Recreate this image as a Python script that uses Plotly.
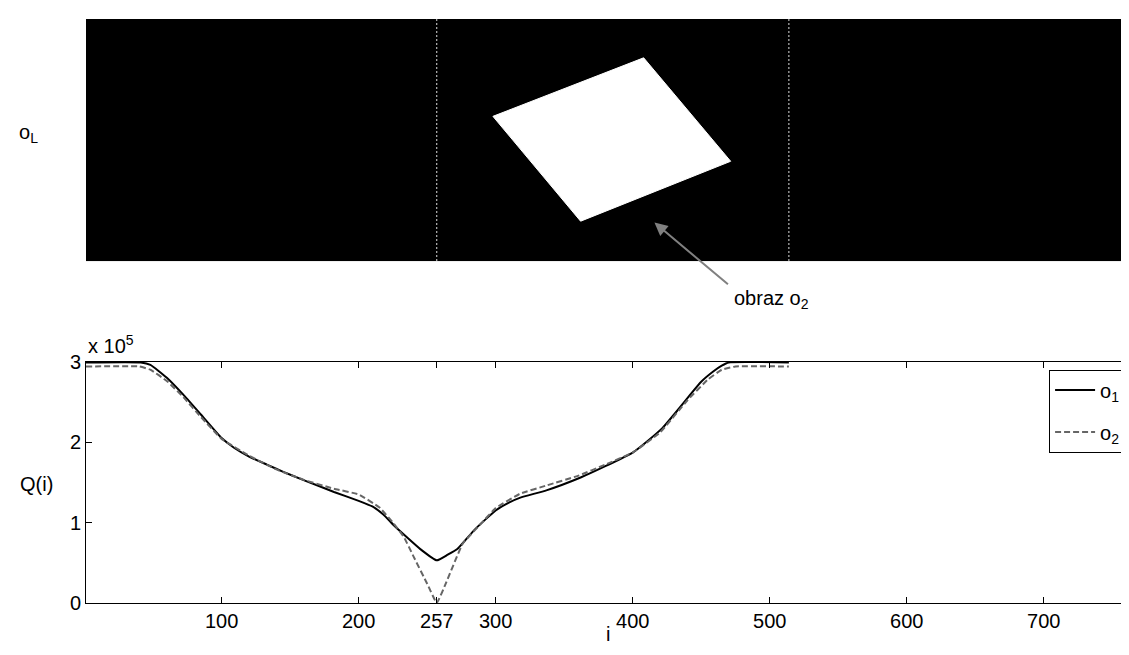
import plotly.graph_objects as go

# ---------------- data ----------------
# Q(i) curves, values in units of 10^5
i_o1 = [1, 41, 48, 60, 72, 85, 100, 109, 120, 133, 145, 158, 170, 182, 200, 210, 218, 226, 235, 245,
        257, 265, 272, 284, 292, 300, 310, 318, 337, 362, 380, 400, 412, 422, 432, 442, 450, 459, 465, 470, 514]
q_o1 = [2.99, 2.99, 2.96, 2.80, 2.59, 2.34, 2.05, 1.93, 1.82, 1.72, 1.63, 1.54, 1.46, 1.38, 1.27, 1.20, 1.10, 0.96, 0.82, 0.67,
        0.53, 0.60, 0.67, 0.90, 1.03, 1.15, 1.25, 1.31, 1.40, 1.56, 1.70, 1.87, 2.03, 2.18, 2.38, 2.59, 2.75, 2.88, 2.95, 2.99, 2.99]

i_o2 = [1, 40, 48, 60, 72, 85, 100, 120, 140, 160, 182, 200, 215, 225, 233, 240, 250, 257, 264, 276, 289,
        300, 318, 337, 360, 380, 400, 420, 440, 455, 465, 475, 514]
q_o2 = [2.94, 2.94, 2.90, 2.76, 2.56, 2.31, 2.04, 1.83, 1.66, 1.53, 1.42, 1.35, 1.19, 1.00, 0.82, 0.58, 0.24, 0.00, 0.26, 0.74, 0.98,
        1.18, 1.36, 1.46, 1.58, 1.72, 1.87, 2.12, 2.52, 2.78, 2.90, 2.94, 2.94]

x_ticks = [100, 200, 257, 300, 400, 500, 600, 700]
y_ticks = [0, 1, 2, 3]
y_ticktext = ["0", "1", "2", "3"]

# top image o_L (pixel coordinates: column i, row r)
img_cols = [0.5, 768.5]
img_rows = [0.5, 178.5]
square_i = [408, 471.5, 362, 298, 408]
square_r = [29, 105, 149, 72, 29]
separators = [257, 514]

X_RANGE = [1, 761.5]
FONT = "Liberation Sans, Arial, sans-serif"
PAGE_OFF = 8  # default body margin of the html page
FIG_H = 639

fig = go.Figure()

# ---- top panel: image ----
fig.add_trace(go.Scatter(
    x=[img_cols[0], img_cols[1], img_cols[1], img_cols[0], img_cols[0]],
    y=[img_rows[0], img_rows[0], img_rows[1], img_rows[1], img_rows[0]],
    fill="toself", fillcolor="black", line=dict(color="black", width=0),
    mode="lines", xaxis="x2", yaxis="y2", showlegend=False, hoverinfo="skip"))
fig.add_trace(go.Scatter(
    x=square_i, y=square_r, fill="toself", fillcolor="white",
    line=dict(color="white", width=1), mode="lines",
    xaxis="x2", yaxis="y2", showlegend=False, hoverinfo="skip"))
for s in separators:
    fig.add_trace(go.Scatter(
        x=[s, s], y=img_rows, mode="lines",
        line=dict(color="#dddddd", width=1, dash="2px,2px"),
        xaxis="x2", yaxis="y2", showlegend=False, hoverinfo="skip"))

# ---- bottom panel: curves ----
fig.add_trace(go.Scatter(
    x=i_o1, y=q_o1, mode="lines", name="o<sub>1</sub>", legendgroup="a",
    line=dict(color="black", width=2, shape="spline", smoothing=0.4)))
fig.add_trace(go.Scatter(
    x=i_o2, y=q_o2, mode="lines", name="o<sub>2</sub>", legendgroup="b",
    line=dict(color="#666666", width=2, dash="6px,3px", shape="spline", smoothing=0.3)))

ax_common = dict(showgrid=False, zeroline=False, showline=True, linecolor="black",
                 linewidth=1, ticks="inside", ticklen=6, tickcolor="black", mirror="ticks",
                 tickfont=dict(family=FONT, size=20, color="black"))

fig.update_layout(
    width=1129 - PAGE_OFF, height=FIG_H,
    margin=dict(l=86 - PAGE_OFF, r=0, t=15 - PAGE_OFF, b=FIG_H + PAGE_OFF - 603),
    paper_bgcolor="white", plot_bgcolor="white",
    font=dict(family=FONT, size=20, color="black"),
    xaxis=dict(domain=[0, 1], anchor="y", range=X_RANGE, tickmode="array",
               tickvals=x_ticks, **ax_common),
    yaxis=dict(domain=[0, 0.4133], anchor="x", range=[0, 3], tickmode="array",
               tickvals=y_ticks, ticktext=y_ticktext, **ax_common),
    xaxis2=dict(domain=[0, 1], anchor="y2", range=X_RANGE, visible=False),
    yaxis2=dict(domain=[0.585, 1], anchor="x2", range=[img_rows[1], img_rows[0]], visible=False),
    legend=dict(x=(1050 - 86) / 1043.0, y=(603 - 368) / 588.0, xanchor="left", yanchor="top",
                bordercolor="black", borderwidth=1, bgcolor="white",
                font=dict(family=FONT, size=20, color="black"),
                itemwidth=40, tracegroupgap=13),
    showlegend=True,
)

PX_W, PX_H = 1043.0, 588.0
def px(xp, yp):
    return (xp - 86) / PX_W, (603 - yp) / PX_H

annots = []
# arrow
hx, hy = px(655, 220)
annots.append(dict(x=hx, y=hy, xref="paper", yref="paper", text="", showarrow=True,
                   ax=75, ay=63, arrowcolor="#808080", arrowwidth=2, arrowhead=2,
                   arrowsize=1.3, standoff=0, startstandoff=0))
tx, ty = px(733, 297)
annots.append(dict(x=tx, y=ty, xref="paper", yref="paper", text="obraz o<sub>2</sub>",
                   showarrow=False, xanchor="left", yanchor="middle",
                   font=dict(family=FONT, size=20, color="black")))
lx, ly = px(28, 130)
annots.append(dict(x=lx, y=ly, xref="paper", yref="paper", text="o<sub>L</sub>",
                   showarrow=False, xanchor="center", yanchor="middle",
                   font=dict(family=FONT, size=20, color="black")))
qx, qy = px(36, 483)
annots.append(dict(x=qx, y=qy, xref="paper", yref="paper", text="Q(i)",
                   showarrow=False, xanchor="center", yanchor="middle",
                   font=dict(family=FONT, size=20, color="black")))
ex, ey = px(86, 357)
annots.append(dict(x=ex, y=ey, xref="paper", yref="paper", text="x 10<sup>5</sup>",
                   showarrow=False, xanchor="left", yanchor="bottom",
                   font=dict(family=FONT, size=20, color="black")))
ix, iy = px(609, FIG_H + PAGE_OFF)
annots.append(dict(x=ix, y=iy, xref="paper", yref="paper", text="i",
                   showarrow=False, xanchor="center", yanchor="bottom",
                   font=dict(family=FONT, size=20, color="black")))
fig.update_layout(annotations=annots)

fig.write_html("out.html")
